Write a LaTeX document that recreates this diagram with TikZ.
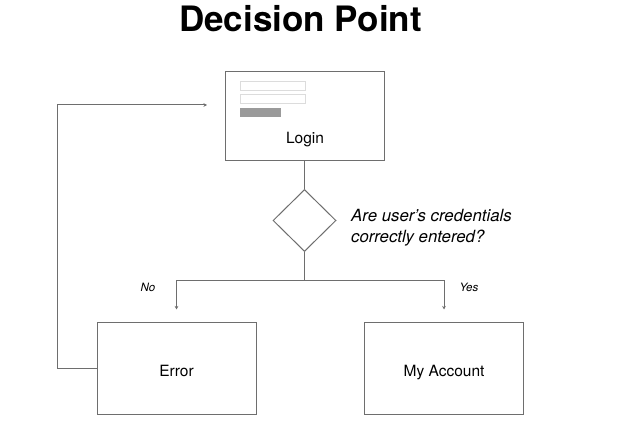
\documentclass[tikz,border=0pt]{standalone}
\usepackage{fontspec}
\setmainfont{TeX Gyre Heros}
\usetikzlibrary{shapes.geometric,arrows.meta}
\definecolor{linegray}{HTML}{6E6E6E}
\definecolor{fieldgray}{HTML}{DCDCDC}
\definecolor{bargray}{HTML}{9A9A9A}
\tikzset{
  box/.style={draw=linegray, line width=1pt, minimum width=159pt, minimum height=91pt, inner sep=0pt},
  boxtext/.style={font=\fontsize{15.5}{18}\selectfont, inner sep=0pt, anchor=base},
  field/.style={draw=fieldgray, line width=0.8pt, minimum width=65pt, minimum height=9pt, inner sep=0pt},
  bar/.style={fill=bargray, minimum width=41pt, minimum height=9pt, inner sep=0pt},
  decision/.style={diamond, draw=linegray, line width=1pt, minimum width=63pt, minimum height=62pt, inner sep=0pt},
  conn/.style={draw=linegray, line width=1pt},
  arr/.style={conn, -{Stealth[length=3.5pt,width=3.5pt]}},
  lbl/.style={font=\fontsize{11.5}{13}\selectfont\itshape, inner sep=0pt, anchor=base},
  question/.style={font=\fontsize{16.8}{21}\selectfont\itshape, align=left, inner sep=0pt, anchor=base west},
}
\begin{document}
\begin{tikzpicture}[x=1pt,y=-1pt]
\useasboundingbox (0,0) rectangle (626,435);
\node[font=\bfseries\fontsize{35}{40}\selectfont, inner sep=0pt, anchor=base] (title) at (300.5,32) {Decision Point};
% login
\node[box, minimum height=89pt] (login) at (304.5,116.5) {};
\node[field] (f1) at (272.5,85.5) {};
\node[field] (f2) at (272.5,98.5) {};
\node[bar] (btn) at (260.5,112.5) {};
\node[boxtext] (logintxt) at (305,144) {Login};
% decision
\node[decision] (dec) at (304.5,220.5) {};
\node[question] (q) at (351,243) {Are user's credentials\\correctly entered?};
% results
\node[box] (err) at (176.5,368.5) {};
\node[boxtext] (errtxt) at (176.5,376) {Error};
\node[box] (acc) at (444,368.5) {};
\node[boxtext] (acctxt) at (444,376) {My Account};
\coordinate (jn) at (304.5,281);
\coordinate (loopend) at (207,105);
\draw[conn] (login.south) -- (dec.north);
\draw[conn] (dec.south) -- (jn);
\draw[arr, shorten >=13pt] (jn) -| (err.north);
\draw[arr, shorten >=13pt] (jn) -| (acc.north);
\node[lbl] (no) at (148,292) {No};
\node[lbl] (yes) at (469,292) {Yes};
\draw[arr] (err.west) -- (57,368.5) |- (loopend);
\end{tikzpicture}
\end{document}
